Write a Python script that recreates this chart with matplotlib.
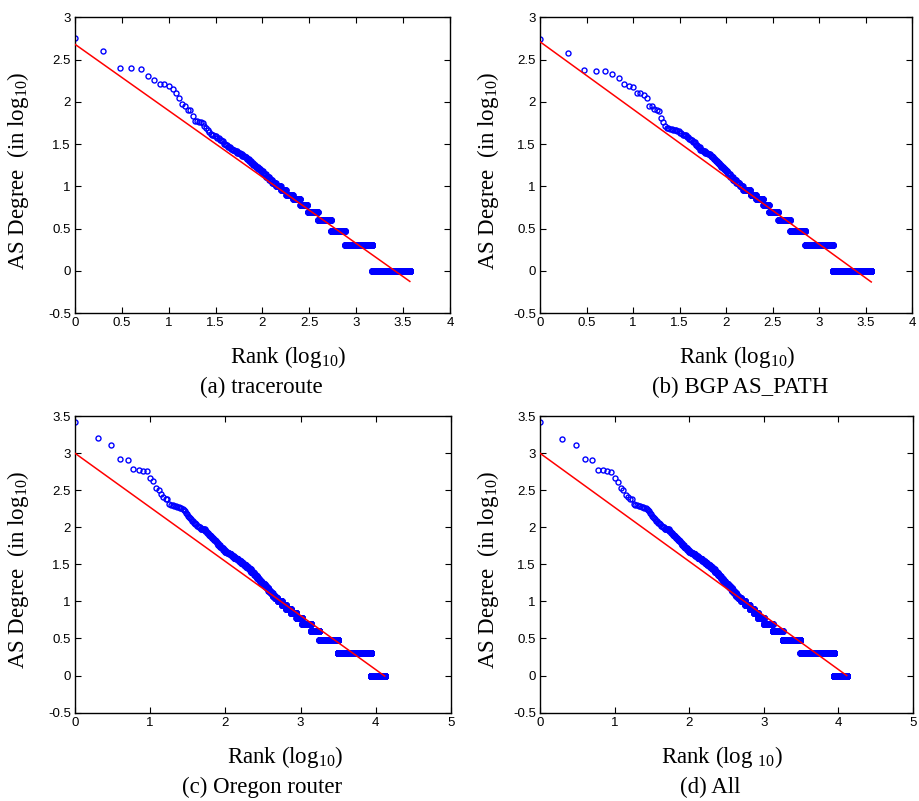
import numpy as np
import matplotlib
matplotlib.use("Agg")
import matplotlib.pyplot as plt

plt.rcParams['font.family'] = ['Liberation Sans', 'DejaVu Sans']
plt.rcParams['mathtext.fontset'] = 'custom'
plt.rcParams['mathtext.rm'] = 'Liberation Serif'

# degree values (descending) and how many ASes have each degree
deg_a = [575, 398, 251, 249, 242, 204, 182, 164, 155, 140, 126, 110, 95, 89, 81, 79, 68, 60,
         59, 57, 56, 52, 49, 46, 44, 42, 41, 39, 37, 35, 34, 32, 31, 29, 28, 27, 26, 25, 24,
         23, 22, 21, 20, 19, 18, 17, 16, 15, 14, 13, 12, 11, 10, 9, 8, 7, 6, 5, 4, 3, 2, 1]
cnt_a = [1, 1, 1, 1, 1, 1, 1, 2, 1, 1, 1, 1, 1, 1, 1, 1, 1, 1,
         1, 2, 1, 1, 1, 1, 1, 1, 2, 2, 2, 2, 2, 2, 2, 3, 2, 3, 3, 4, 3,
         4, 3, 4, 4, 4, 5, 5, 6, 6, 7, 9, 9, 12, 18, 22, 33, 41, 50, 87, 150, 220, 725, 2250]

deg_b = [546, 374, 238, 234, 232, 215, 191, 164, 153, 150, 128, 120, 111, 88, 83, 81, 78, 65,
         57, 52, 49, 48, 47, 46, 45, 43, 41, 40, 38, 36, 35, 33, 31, 29, 27, 26, 25, 24, 23,
         22, 21, 20, 19, 18, 17, 16, 15, 14, 13, 12, 11, 10, 9, 8, 7, 6, 5, 4, 3, 2, 1]
cnt_b = [1, 1, 1, 1, 1, 1, 1, 1, 1, 1, 2, 1, 1, 2, 1, 1, 1, 1,
         1, 1, 2, 2, 2, 1, 2, 2, 2, 2, 2, 2, 2, 3, 3, 3, 3, 4, 4, 4, 3,
         3, 3, 4, 4, 4, 5, 5, 5, 7, 8, 10, 11, 12, 31, 27, 41, 38, 75, 126, 221, 690, 2230]

deg_c = [2630, 1585, 1312, 837, 811, 607, 594, 576, 571, 468, 422, 343, 323, 279, 259, 240, 206,
         200, 198, 195, 192, 188, 186, 184, 180, 176, 170, 164, 158, 150, 143, 137, 132, 128,
         122, 116, 110, 104, 100, 96, 94, 90, 85, 80, 76, 72, 68, 65, 62, 58, 55, 52, 50,
         47, 45, 43, 41, 39, 37, 35, 33, 31, 29, 27, 25, 24, 23, 22, 21, 20, 19, 18, 17,
         16, 15, 14, 13, 12, 11, 10, 9, 8, 7, 6, 5, 4, 3, 2, 1]
cnt_c = [1, 1, 1, 1, 1, 1, 1, 1, 1, 1, 1, 1, 1, 1, 1, 2, 1,
         1, 1, 1, 1, 1, 1, 1, 1, 1, 1, 1, 1, 1, 1, 1, 1, 1,
         2, 2, 2, 2, 3, 3, 4, 3, 3, 3, 3, 4, 4, 3, 3, 5, 4, 5, 5,
         7, 7, 8, 9, 10, 10, 12, 13, 14, 15, 15, 15, 10, 10, 10, 10, 11, 14, 16, 18,
         20, 22, 24, 26, 30, 40, 68, 80, 100, 140, 170, 330, 400, 1380, 5550, 4490]

deg_d = [2630, 1550, 1290, 830, 803, 603, 589, 576, 564, 468, 414, 339, 316, 276, 257, 240, 204,
         200, 198, 195, 192, 188, 186, 184, 180, 176, 170, 164, 158, 150, 143, 137, 132, 128,
         122, 116, 110, 104, 100, 96, 94, 90, 85, 80, 76, 72, 68, 65, 62, 58, 55, 52, 50,
         47, 45, 43, 41, 39, 37, 35, 33, 31, 29, 27, 25, 24, 23, 22, 21, 20, 19, 18, 17,
         16, 15, 14, 13, 12, 11, 10, 9, 8, 7, 6, 5, 4, 3, 2, 1]
cnt_d = [1, 1, 1, 1, 1, 1, 1, 1, 1, 1, 1, 1, 1, 1, 1, 2, 1,
         1, 1, 1, 1, 1, 1, 1, 1, 1, 1, 1, 1, 1, 1, 1, 1, 1,
         2, 2, 2, 2, 3, 3, 4, 3, 3, 3, 3, 4, 4, 3, 3, 5, 4, 5, 5,
         7, 7, 8, 9, 10, 10, 12, 13, 14, 15, 15, 15, 10, 10, 10, 10, 11, 14, 16, 18,
         20, 22, 24, 26, 30, 40, 68, 80, 90, 100, 170, 310, 470, 1310, 5610, 4200]

# fitted power-law lines: intercept, slope (log-log)
fit_a = (2.68, -0.785)
fit_b = (2.71, -0.798)
fit_c = (3.00, -0.73)
fit_d = (3.00, -0.73)

captions = ["(a) traceroute", "(b) BGP AS_PATH", "(c) Oregon router", "(d) All"]
xlabels = [r"Rank (log$_{\mathregular{10}}$)", r"Rank (log$_{\mathregular{10}}$)",
           r"Rank (log$_{\mathregular{10}}$)", r"Rank (log $_{\mathregular{10}}$)"]
ylabel = r"AS Degree  (in log$_{\mathregular{10}}$)"

fig = plt.figure(figsize=(9.19, 8.01), dpi=100)

# [left, bottom, width, height], xlim, xstep, ylim, xlabel x, caption x, ylabel x
panels = [
    ([0.0816, 0.609, 0.408, 0.3695], 4, 0.5, 3.0, 0.568, 0.496, -0.152),
    ([0.5876, 0.609, 0.405, 0.3695], 4, 0.5, 3.0, 0.53, 0.538, -0.14),
    ([0.0816, 0.1104, 0.409, 0.370], 5, 1.0, 3.5, 0.56, 0.497, -0.152),
    ([0.5876, 0.1104, 0.406, 0.370], 5, 1.0, 3.5, 0.488, 0.456, -0.14),
]
data = [(deg_a, cnt_a, fit_a), (deg_b, cnt_b, fit_b), (deg_c, cnt_c, fit_c), (deg_d, cnt_d, fit_d)]

serif = 'Liberation Serif'
for i, (rect, xmax, xstep, ymax, lx, cx, yx) in enumerate(panels):
    deg, cnt, fit = data[i]
    ax = fig.add_axes(rect)
    degs = np.repeat(np.array(deg, dtype=float), cnt)
    rank = np.arange(1, len(degs) + 1)
    x = np.log10(rank)
    y = np.log10(degs)
    ax.plot(x, y, 'o', ms=3.6, mfc='none', mec='#0000ff', mew=1.0, zorder=2)
    xl = np.array([0, x.max()])
    ax.plot(xl, fit[0] + fit[1] * xl, '-', color='#ff0000', lw=1.1, zorder=3)

    ax.set_xlim(0, xmax)
    ax.set_ylim(-0.5, ymax)
    xt = np.arange(0, xmax + 0.01, xstep)
    yt = np.arange(-0.5, ymax + 0.01, 0.5)
    ax.set_xticks(xt)
    ax.set_yticks(yt)
    ax.set_xticklabels(['%g' % v for v in xt])
    ax.set_yticklabels(['%g' % v for v in yt])
    ax.tick_params(direction='in', top=True, right=True, length=4, width=0.8,
                   labelsize=9.5, pad=3)
    for s in ax.spines.values():
        s.set_linewidth(1.0)

    ax.set_xlabel(xlabels[i], fontsize=16.5, family=serif)
    ax.xaxis.set_label_coords(lx, -0.149)
    ax.xaxis.label.set_va('center')
    ax.set_ylabel(ylabel, fontsize=16.5, family=serif)
    ax.yaxis.set_label_coords(yx, 0.48)
    ax.yaxis.label.set_va('center')
    ax.text(cx, -0.252, captions[i], transform=ax.transAxes, ha='center', va='center',
            fontsize=16.5, family=serif)

fig.savefig("out.png", dpi=100)
